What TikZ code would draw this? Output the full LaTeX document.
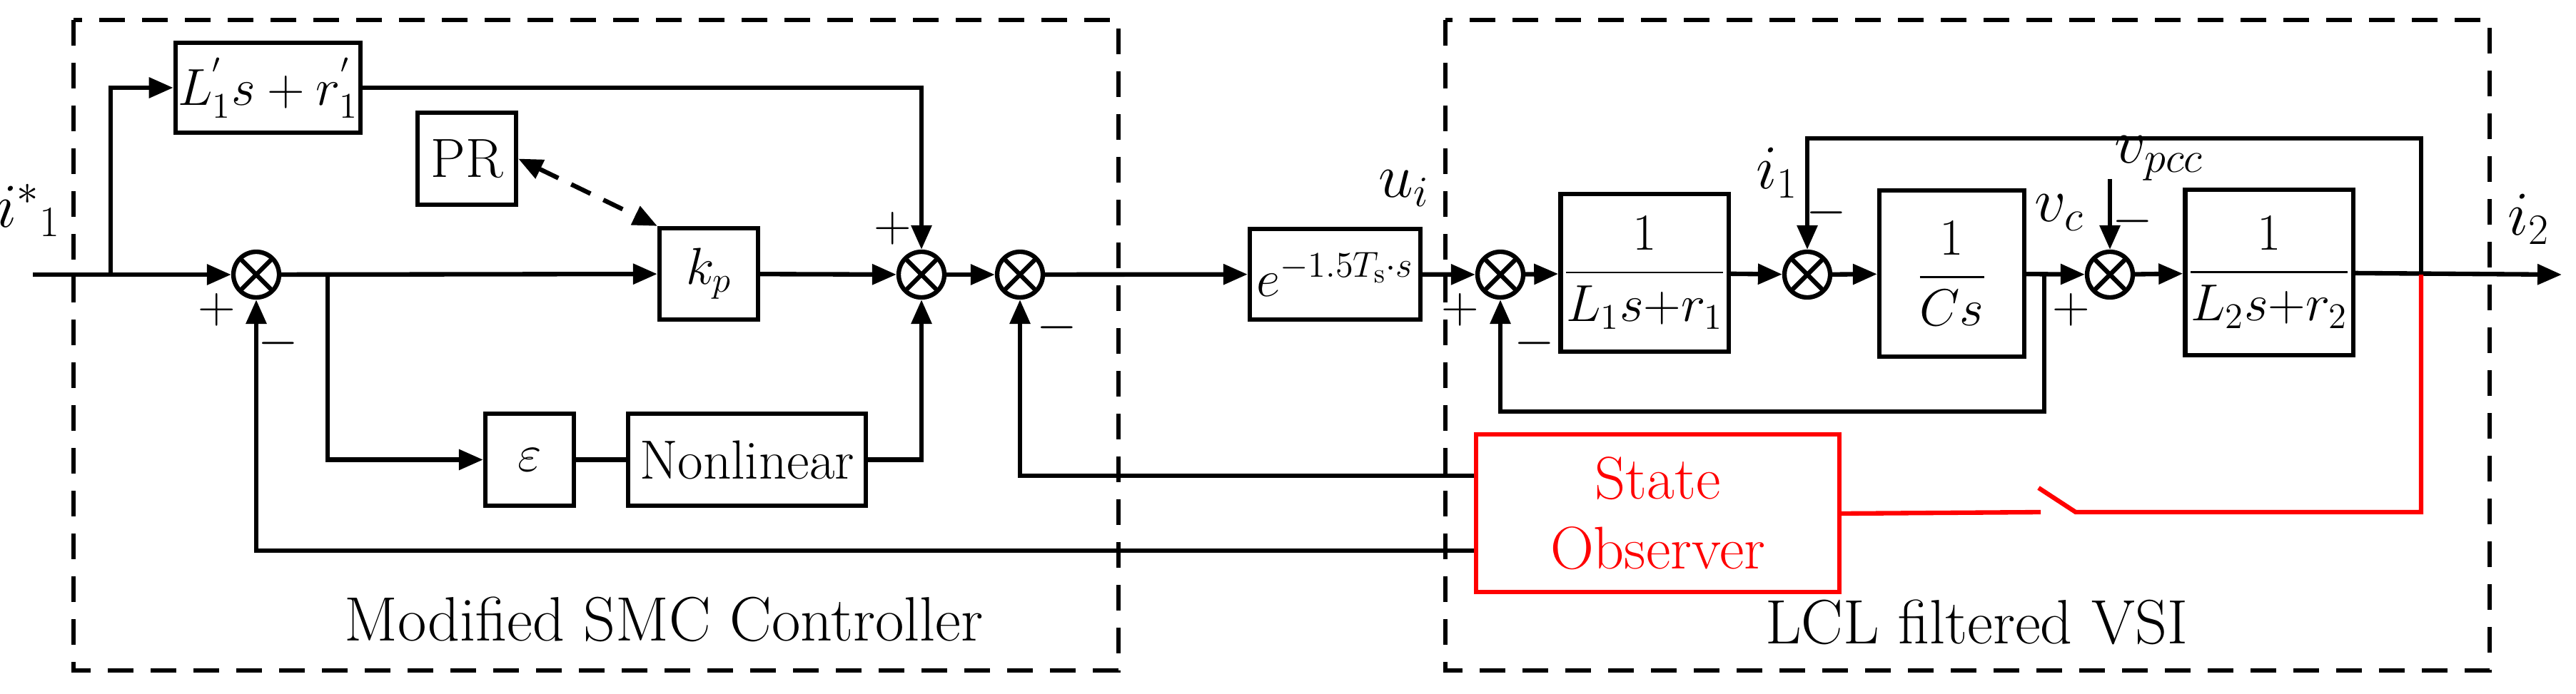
\documentclass[tikz,border=0pt]{standalone}
\usepackage{amsmath}
\usetikzlibrary{arrows.meta,calc}
\tikzset{
  blk/.style={draw, line width=1.8pt, inner sep=1pt, font=\fontsize{22}{24}\selectfont},
  sumn/.style={circle, draw, line width=1.8pt, minimum size=0.64cm, inner sep=0pt,
    path picture={\draw[line width=1.8pt] (path picture bounding box.north west) -- (path picture bounding box.south east)
      (path picture bounding box.north east) -- (path picture bounding box.south west);}},
  sig/.style={line width=1.8pt, -{Triangle[length=0.34cm,width=0.28cm]}},
  wire/.style={line width=1.8pt},
  frame/.style={line width=1.8pt, dash pattern=on 0.36cm off 0.24cm},
  lbl/.style={font=\fontsize{25}{27}\selectfont},
  sgn/.style={font=\fontsize{20}{22}\selectfont, inner sep=1pt}
}
\begin{document}
\begin{tikzpicture}
  \useasboundingbox (0,0) rectangle (36.09,-9.73);

  % Dashed frames
  \draw[frame] (1.03,-0.28) rectangle (15.67,-9.40);
  \draw[frame] (20.25,-0.28) rectangle (34.88,-9.40);
  \node[lbl] (ctrl) at (9.30,-8.68) {Modified SMC Controller};
  \node[lbl] (vsi) at (27.69,-8.72) {LCL filtered VSI};

  % Blocks
  \node[blk, minimum width=2.27cm, minimum height=1.26cm] (ff) at (3.755,-1.23) {$L_1^{'}s+r_1^{'}$};
  \node[blk, minimum width=1.38cm, minimum height=1.29cm] (PR) at (6.54,-2.225) {PR};
  \node[blk, minimum width=1.38cm, minimum height=1.28cm] (kp) at (9.93,-3.84) {$k_p$};
  \node[blk, minimum width=1.24cm, minimum height=1.29cm] (eps) at (7.42,-6.445) {$\varepsilon$};
  \node[blk, minimum width=3.33cm, minimum height=1.29cm] (nl) at (10.465,-6.445) {Nonlinear};
  \node[blk, minimum width=2.39cm, minimum height=1.27cm] (dly) at (18.705,-3.845) {$e^{-1.5T_{\mathrm{s}}\cdot s}$};
  \node[blk, minimum width=2.16cm, minimum height=2.21cm] (G1) at (23.04,-3.825) {$\dfrac{1}{L_1s{+}r_1}$};
  \node[blk, minimum width=2.03cm, minimum height=2.33cm] (Gc) at (27.345,-3.835) {$\dfrac{1}{Cs}$};
  \node[blk, minimum width=2.24cm, minimum height=2.32cm] (G2) at (31.79,-3.82) {$\dfrac{1}{L_2s{+}r_2}$};
  \node[blk, draw=red, text=red, align=center, minimum width=5.09cm, minimum height=2.21cm, font=\fontsize{24}{28}\selectfont] (obs) at (23.225,-7.195) {State\\Observer};

  % Summing junctions
  \node[sumn] (s1) at (3.59,-3.85) {};
  \node[sumn] (s2) at (12.91,-3.85) {};
  \node[sumn] (s3) at (14.29,-3.85) {};
  \node[sumn] (s4) at (21.02,-3.85) {};
  \node[sumn] (s5) at (25.32,-3.85) {};
  \node[sumn] (s6) at (29.56,-3.85) {};

  \coordinate (in) at (0.46,-3.85);
  \coordinate (out) at (35.89,-3.85);
  \coordinate (b1) at (1.55,-3.85);
  \coordinate (b2) at (4.59,-3.85);
  \coordinate (tap) at (33.92,-3.85);
  \coordinate (vc) at (28.64,-3.85);
  \coordinate (vp) at (29.56,-2.51);
  \coordinate (o1) at ($(obs.west)+(0,0.525)$);
  \coordinate (o2) at ($(obs.west)+(0,-0.525)$);

  % Controller paths
  \draw[sig] (in) -- (s1);
  \draw[sig] (b1) |- (ff.west);
  \draw[sig] (ff.east) -| (s2.north);
  \draw[sig] (s1) -- (kp);
  \draw[sig] (kp) -- (s2);
  \draw[sig] (s2) -- (s3);
  \draw[sig] (b2) |- (eps.west);
  \draw[wire] (eps) -- (nl);
  \draw[sig] (nl.east) -| (s2.south);
  \draw[line width=1.8pt, dash pattern=on 0.3cm off 0.2cm, {Triangle[length=0.34cm,width=0.28cm]}-{Triangle[length=0.34cm,width=0.28cm]}] (PR.east) -- (kp.north west);
  \draw[sig] (s3) -- (dly);
  \draw[sig] (o1) -| (s3.south);
  \draw[sig] (o2) -| (s1.south);

  % Plant paths
  \draw[sig] (dly) -- (s4);
  \draw[sig] (s4) -- (G1);
  \draw[sig] (G1) -- (s5);
  \draw[sig] (s5) -- (Gc);
  \draw[sig] (Gc) -- (s6);
  \draw[sig] (s6) -- (G2);
  \draw[sig] (G2) -- (out);
  \draw[sig] (tap) -- (33.92,-1.94) -| (s5.north);
  \draw[sig] (vc) -- (28.64,-5.77) -| (s4.south);
  \draw[sig] (vp) -- (s6.north);

  % Observer switch
  \draw[wire, red] (tap) -- (33.92,-7.18) -- (29.08,-7.18) -- (28.56,-6.84);
  \draw[wire, red] (28.59,-7.18) -- (obs.east |- 0,-7.2);

  % Signal labels
  \node[lbl] (li) at (0.40,-2.95) {$i^{*}{}_{1}$};
  \node[lbl] (lu) at (19.67,-2.64) {$u_i$};
  \node[lbl] (l1) at (24.90,-2.42) {$i_1$};
  \node[lbl] (lc) at (28.85,-2.98) {$v_c$};
  \node[lbl] (lp) at (30.25,-2.22) {$v_{pcc}$};
  \node[lbl] (l2) at (35.43,-3.07) {$i_2$};

  % Signs
  \node[sgn] at (3.04,-4.34) {$+$};
  \node[sgn] at (3.90,-4.81) {$-$};
  \node[sgn] at (12.51,-3.20) {$+$};
  \node[sgn] at (14.81,-4.59) {$-$};
  \node[sgn] at (20.46,-4.34) {$+$};
  \node[sgn] at (21.50,-4.81) {$-$};
  \node[sgn] at (25.59,-2.98) {$-$};
  \node[sgn] at (29.02,-4.34) {$+$};
  \node[sgn] at (29.88,-3.10) {$-$};
\end{tikzpicture}
\end{document}
